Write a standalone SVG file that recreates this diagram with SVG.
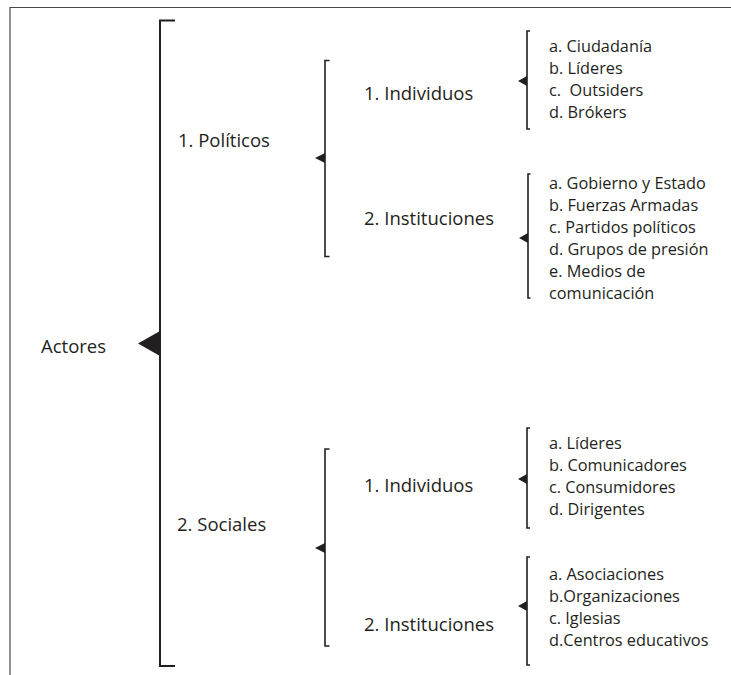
<svg xmlns="http://www.w3.org/2000/svg" width="731" height="675" viewBox="0 0 731 675">
<style>
.t{font-family:"Open Sans","Liberation Sans",sans-serif;fill:#231f20}
.m{font-size:18.5px}
.s{font-size:16.3px}
.pre{white-space:pre}
.br{fill:none;stroke:#231f20;stroke-width:2}
.br2{fill:none;stroke:#231f20;stroke-width:1.6}
.tri{fill:#231f20}
</style>
<rect width="731" height="675" fill="#fff"/>
<path d="M10 675 V7.5 H731" fill="none" stroke="#4a4a4a" stroke-width="1.2"/>
<g id="connectors">
<path class="br" d="M175 20.5 H160 V666 H175"/>
<polygon class="tri" points="138,343.5 160,331 160,356"/>
<path class="br2" d="M329.5 60.5 H325 V256.5 H329.5"/>
<polygon class="tri" points="315,158 325,153 325,163"/>
<path class="br2" d="M329.5 449 H325 V646 H329.5"/>
<polygon class="tri" points="315,548 325,543 325,553"/>
<path class="br2" d="M530 31 H527 V129 H530"/>
<polygon class="tri" points="518,81 527,76 527,86"/>
<path class="br2" d="M530.5 174 H528 V298 H530.5"/>
<polygon class="tri" points="519,238 528,233 528,243"/>
<path class="br2" d="M530 428 H527 V528 H530"/>
<polygon class="tri" points="518,479 527,474 527,484"/>
<path class="br2" d="M530 557 H527 V665 H530"/>
<polygon class="tri" points="518,606 527,601 527,611"/>
</g>
<g id="actores"><text class="t m" x="41" y="353">Actores</text></g>
<g id="politicos"><text class="t m" x="178" y="147">1. Políticos</text></g>
<g id="sociales"><text class="t m" x="177" y="531">2. Sociales</text></g>
<g id="pol-individuos"><text class="t m" x="364" y="100">1. Individuos</text></g>
<g id="pol-instituciones"><text class="t m" x="364" y="225">2. Instituciones</text></g>
<g id="soc-individuos"><text class="t m" x="364" y="492">1. Individuos</text></g>
<g id="soc-instituciones"><text class="t m" x="364" y="631">2. Instituciones</text></g>
<g id="list-pol-ind">
<text class="t s" x="549" y="52">a. Ciudadanía</text>
<text class="t s" x="549" y="74">b. Líderes</text>
<text class="t s pre" x="549" y="96">c.  Outsiders</text>
<text class="t s" x="549" y="118">d. Brókers</text>
</g>
<g id="list-pol-inst">
<text class="t s" x="549" y="188.5">a. Gobierno y Estado</text>
<text class="t s" x="549" y="210.5">b. Fuerzas Armadas</text>
<text class="t s" x="549" y="232.5">c. Partidos políticos</text>
<text class="t s" x="549" y="254.5">d. Grupos de presión</text>
<text class="t s" x="549" y="276.5">e. Medios de</text>
<text class="t s" x="549" y="298.5">comunicación</text>
</g>
<g id="list-soc-ind">
<text class="t s" x="549" y="448.5">a. Líderes</text>
<text class="t s" x="549" y="470.5">b. Comunicadores</text>
<text class="t s" x="549" y="492.5">c. Consumidores</text>
<text class="t s" x="549" y="514.5">d. Dirigentes</text>
</g>
<g id="list-soc-inst">
<text class="t s" x="549" y="580">a. Asociaciones</text>
<text class="t s" x="549" y="602">b.Organizaciones</text>
<text class="t s" x="549" y="624">c. Iglesias</text>
<text class="t s" x="549" y="646">d.Centros educativos</text>
</g>
</svg>
